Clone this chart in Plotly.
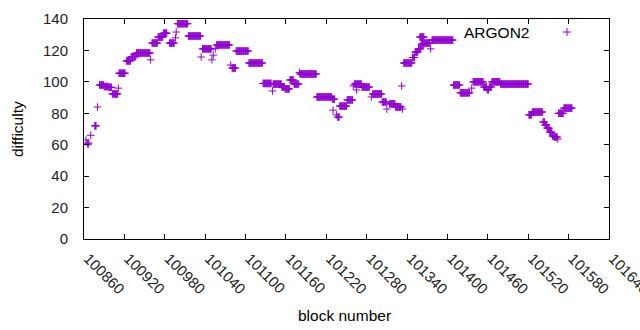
import plotly.graph_objects as go

# Runs of consecutive blocks sharing the same difficulty
run_first = [100863, 100865, 100866, 100867, 100870, 100876, 100880, 100883, 100890, 100897,
             100902, 100911, 100912, 100923, 100930, 100938, 100959, 100961, 100970, 100978,
             100987, 100996, 100997, 100999, 101015, 101034, 101036, 101050, 101052, 101055,
             101057, 101078, 101080, 101086, 101105, 101126, 101140, 101141, 101154, 101159,
             101166, 101172, 101180, 101181, 101206, 101229, 101230, 101235, 101237, 101240,
             101251, 101260, 101262, 101265, 101273, 101287, 101289, 101303, 101310, 101314,
             101323, 101332, 101333, 101335, 101348, 101352, 101357, 101361, 101366, 101375,
             101377, 101409, 101419, 101436, 101438, 101454, 101459, 101462, 101466, 101479,
             101521, 101526, 101542, 101545, 101548, 101552, 101556, 101559, 101564, 101565,
             101573, 101359]
run_last = [100863, 100865, 100866, 100867, 100870, 100878, 100880, 100889, 100896, 100901,
            100910, 100911, 100921, 100929, 100937, 100958, 100959, 100969, 100977, 100983,
            100994, 100996, 100997, 101014, 101033, 101034, 101049, 101050, 101052, 101055,
            101076, 101078, 101085, 101104, 101125, 101138, 101140, 101153, 101158, 101165,
            101171, 101179, 101180, 101205, 101228, 101232, 101230, 101235, 101239, 101250,
            101259, 101260, 101272, 101265, 101284, 101287, 101302, 101309, 101310, 101322,
            101331, 101332, 101333, 101347, 101351, 101356, 101360, 101365, 101374, 101375,
            101408, 101418, 101433, 101436, 101453, 101458, 101461, 101465, 101478, 101520,
            101525, 101541, 101544, 101547, 101551, 101555, 101558, 101563, 101564, 101572,
            101585, 101365]
run_difficulty = [63, 61, 60, 61, 66, 72, 84, 98, 97, 96.5,
                  92.3, 96, 105.5, 113.3, 116, 118.4, 114, 124.7, 128.5, 131,
                  124.7, 128, 131.7, 137, 129.2, 115.8, 121, 114, 117, 121,
                  123.5, 110.7, 108.8, 119.6, 112, 99, 94.2, 98.6, 96.7, 95.5,
                  101.2, 98.6, 106, 105, 90.4, 89, 82, 79, 77.6, 84.6,
                  88.5, 97.4, 98.6, 94.8, 96.7, 90.4, 92.3, 87.2, 82.7, 86,
                  84, 97.4, 82.7, 112, 115.5, 119, 121, 124, 124.7, 121,
                  126.6, 98, 93, 96, 100, 96.7, 95, 96.7, 100, 98.6,
                  79, 80.8, 74.5, 72.5, 70.6, 68, 65.5, 64.9, 63.6, 80,
                  83.3, 128.5]

x_ticks = list(range(100860, 101641, 60))
y_ticks = [0, 20, 40, 60, 80, 100, 120, 140]
series_name = "ARGON2"

blocks, diffs = [], []
for a, b, v in zip(run_first, run_last, run_difficulty):
    for blk in range(a, b + 1):
        blocks.append(blk)
        diffs.append(v)

COLOR = "#9400D3"
FONT = "Liberation Sans"

L, R, T, B = 84, 609, 19, 239
PW, PH = R - L, B - T

fig = go.Figure()
fig.add_trace(go.Scatter(
    x=blocks, y=diffs, mode="markers", name=series_name, showlegend=False,
    marker=dict(symbol="cross-thin", size=5.4, color=COLOR,
                line=dict(color=COLOR, width=1)),
))

axis_common = dict(showline=True, linecolor="black", linewidth=1, mirror="allticks",
                   ticks="inside", ticklen=5, tickcolor="black", showgrid=False,
                   zeroline=False, automargin=False, ticklabeloverflow="allow",
                   tickfont=dict(family=FONT, size=15, color="#222222"))

fig.update_layout(
    width=640, height=330,
    margin=dict(l=L, r=640 - R, t=T, b=330 - B),
    paper_bgcolor="white", plot_bgcolor="white",
    font=dict(family=FONT, size=15, color="black"),
    xaxis=dict(range=[100860, 101640], tickvals=x_ticks,
               ticktext=[str(t) for t in x_ticks], tickangle=45,
               ticklabelstandoff=4, ticklabelshift=4,
               **axis_common),
    yaxis=dict(range=[0, 140], tickvals=y_ticks, ticklabelstandoff=12, **axis_common),
    annotations=[
        dict(xref="paper", yref="paper", x=(531 - L) / PW, y=(B - 32) / PH,
             xanchor="right", yanchor="middle", text=series_name, showarrow=False,
             font=dict(family=FONT, size=15.5, color="black")),
        dict(xref="paper", yref="paper", x=(344 - L) / PW, y=(B - 315) / PH,
             xanchor="center", yanchor="middle", text="block number", showarrow=False,
             font=dict(family=FONT, size=15.5, color="black")),
        dict(xref="paper", yref="paper", x=(17 - L) / PW, y=0.5, textangle=-90,
             xanchor="center", yanchor="middle", text="difficulty", showarrow=False,
             font=dict(family=FONT, size=15.5, color="black")),
    ],
    shapes=[
        dict(type="line", xref="paper", yref="paper", x0=(563 - L) / PW, x1=(571 - L) / PW,
             y0=(B - 32) / PH, y1=(B - 32) / PH, line=dict(color=COLOR, width=1)),
        dict(type="line", xref="paper", yref="paper", x0=(567 - L) / PW, x1=(567 - L) / PW,
             y0=(B - 28) / PH, y1=(B - 36) / PH, line=dict(color=COLOR, width=1)),
    ],
)

fig.write_html("out.html", config={"displayModeBar": False},
               post_script="document.body.style.margin='0';document.body.style.overflow='hidden';")
